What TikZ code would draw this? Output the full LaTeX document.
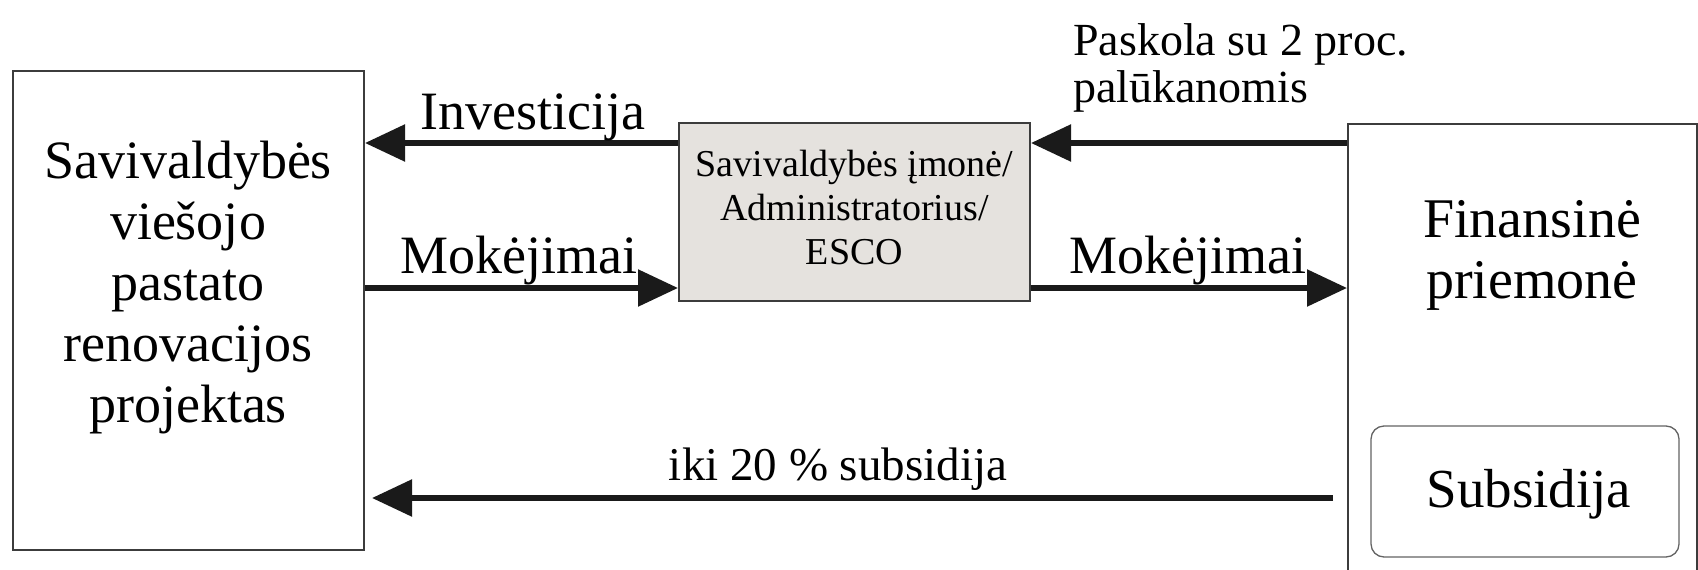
\documentclass[tikz,border=0pt]{standalone}
\usepackage{fontspec}
\setmainfont{Liberation Serif}
\usetikzlibrary{arrows.meta}
\definecolor{escofill}{RGB}{229,226,222}
\definecolor{boxline}{RGB}{60,60,60}
\definecolor{arrowc}{RGB}{26,26,26}
\begin{document}
\begin{tikzpicture}[x=1pt,y=-1pt,
  box/.style={draw=boxline, line width=2pt, inner sep=0pt},
  flow/.style={draw=arrowc, line width=5.5pt, -{Triangle[length=40pt,width=36pt]}},
  lbl/.style={font=\fontsize{54}{61}\selectfont, anchor=base, inner sep=0pt, text=black},
]
\clip (0,0) rectangle (1698,570);
\fill[white] (0,0) rectangle (1698,570);

% boxes
\node[box, minimum width=351pt, minimum height=479pt] (L) at (188.5,310.5) {};
\node[box, fill=escofill, minimum width=351pt, minimum height=178pt] (M) at (854.5,212) {};
\node[box, minimum width=349pt, minimum height=476pt] (R) at (1522.5,362) {};
\node[draw=boxline!80, line width=1.3pt, rounded corners=13pt, inner sep=0pt,
      minimum width=308pt, minimum height=131pt] (S) at (1525,491.5) {};

% box texts (base anchor = baseline of the last line)
\node[lbl, align=center] (LT) at (188,422) {Savivaldybės\\viešojo\\pastato\\renovacijos\\projektas};
\node[lbl, align=center, font=\fontsize{38}{44}\selectfont] (MT) at (854.5,264) {Savivaldybės įmonė/\\Administratorius/\\ESCO};
\node[lbl, align=center, font=\fontsize{56}{61}\selectfont] (RT) at (1532,298) {Finansinė\\priemonė};
\node[lbl, font=\fontsize{55}{61}\selectfont] (ST) at (1529,507) {Subsidija};

% connectors
\coordinate (B) at (1333,498);
\draw[flow] (M.west |- 0,143) -- (L.east |- 0,143);
\draw[flow] (L.east |- 0,288) -- (M.west |- 0,288);
\draw[flow] (R.west |- 0,143) -- (M.east |- 0,143);
\draw[flow] (M.east |- 0,288) -- (R.west |- 0,288);
\draw[flow, shorten >=7pt] (B) -- (L.east |- B);

% connector labels
\node[lbl] (li) at (532.5,129) {Investicija};
\node[lbl] (lm1) at (519,273) {Mokėjimai};
\node[lbl] (lm2) at (1187.5,273) {Mokėjimai};
\node[lbl, anchor=base west, align=left, font=\fontsize{46}{47}\selectfont] (lp) at (1073,102) {Paskola su 2 proc.\\palūkanomis};
\node[lbl, font=\fontsize{47}{50}\selectfont] (ls) at (838,480) {iki 20 \% subsidija};
\end{tikzpicture}
\end{document}
